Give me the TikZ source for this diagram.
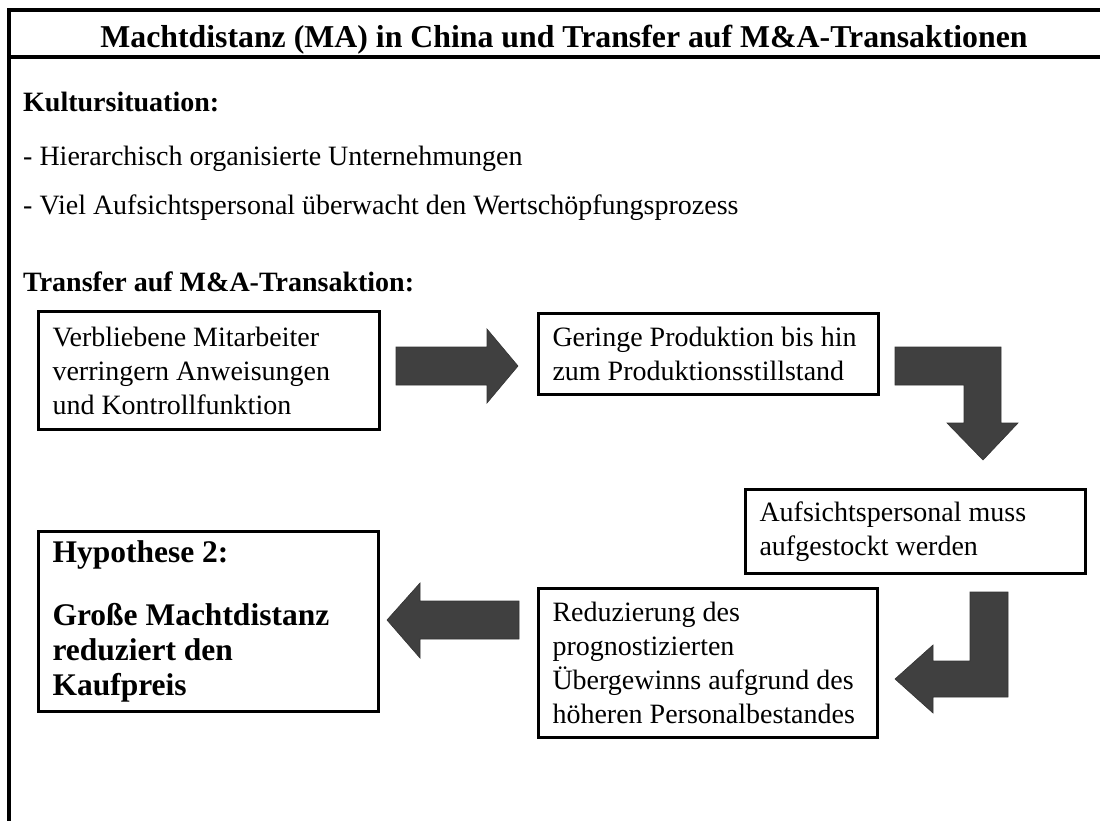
\documentclass[tikz,border=0pt]{standalone}
\usepackage{fontspec}
\setmainfont{Liberation Serif}
\definecolor{arrowgray}{HTML}{404040}
\tikzset{
    box/.style = {draw, rectangle, line width=3pt, anchor=north west, inner xsep=14pt, inner ysep=0pt, align=flush left, font=\fontsize{28}{34}\selectfont},
    plain/.style = {anchor=base west, inner sep=0pt, font=\fontsize{28}{34}\selectfont},
    heading/.style = {plain, font=\bfseries\fontsize{28}{34}\selectfont},
    blockarrow/.style = {fill=arrowgray, draw=black!80, line width=0.6pt}
}

\begin{document}
\begin{tikzpicture}[x=1pt, y=-1pt]
    \useasboundingbox (0,0) rectangle (1100,820);
    \clip (0,0) rectangle (1100,820);

    % frame and title
    \draw[line width=3.5pt] (9,10) rectangle (1104,840);
    \draw[line width=4pt] (9,57) -- (1104,57);
    \node[anchor=base, inner sep=0pt, font=\bfseries\fontsize{31.8}{36}\selectfont] (titel) at (564,47) {Machtdistanz (MA) in China und Transfer auf M\&A-Transaktionen};

    \node[heading] (kultur) at (23,111) {Kultursituation:};
    \node[plain] (hierarchie) at (23,165) {- Hierarchisch organisierte Unternehmungen};
    \node[plain] (aufsicht) at (23,214) {- Viel Aufsichtspersonal überwacht den Wertschöpfungsprozess};
    \node[heading] (transfer) at (23,291) {Transfer auf M\&A-Transaktion:};

    % boxes
    \node[box, minimum width=341pt, minimum height=118pt, text width=313pt] (mitarbeiter) at (37,310) {Verbliebene Mitarbeiter\\ verringern Anweisungen\\ und Kontrollfunktion};
    \node[box, minimum width=340pt, minimum height=81pt, text width=312pt] (produktion) at (537,312) {Geringe Produktion bis hin\\ zum Produktionsstillstand};
    \node[box, minimum width=340pt, minimum height=84pt, text width=312pt] (personal) at (744,488) {Aufsichtspersonal muss\\ aufgestockt werden};
    \node[box, minimum width=339pt, minimum height=149pt, text width=311pt] (gewinn) at (537,587) {Reduzierung des\\ prognostizierten\\ Übergewinns aufgrund des\\ höheren Personalbestandes};
    \node[box, minimum width=340pt, minimum height=180pt, text width=312pt, font=\bfseries\fontsize{31.5}{35}\selectfont] (hypothese) at (37,530) {Hypothese 2:\\[28pt] Große Machtdistanz\\ reduziert den\\ Kaufpreis};

    % block arrows
    \filldraw[blockarrow] (396,347) -- (487,347) -- (487,329) -- (518,366) -- (487,403) -- (487,385) -- (396,385) -- cycle;
    \filldraw[blockarrow] (895,347) -- (1001,347) -- (1001,423) -- (1018,423) -- (983,460) -- (947,423) -- (964,423) -- (964,385) -- (895,385) -- cycle;
    \filldraw[blockarrow] (970,592) -- (1008,592) -- (1008,697) -- (933,697) -- (933,713) -- (895,679) -- (933,645) -- (933,661) -- (970,661) -- cycle;
    \filldraw[blockarrow] (519,601) -- (420,601) -- (420,583) -- (387,620) -- (420,658) -- (420,639) -- (519,639) -- cycle;
\end{tikzpicture}
\end{document}
